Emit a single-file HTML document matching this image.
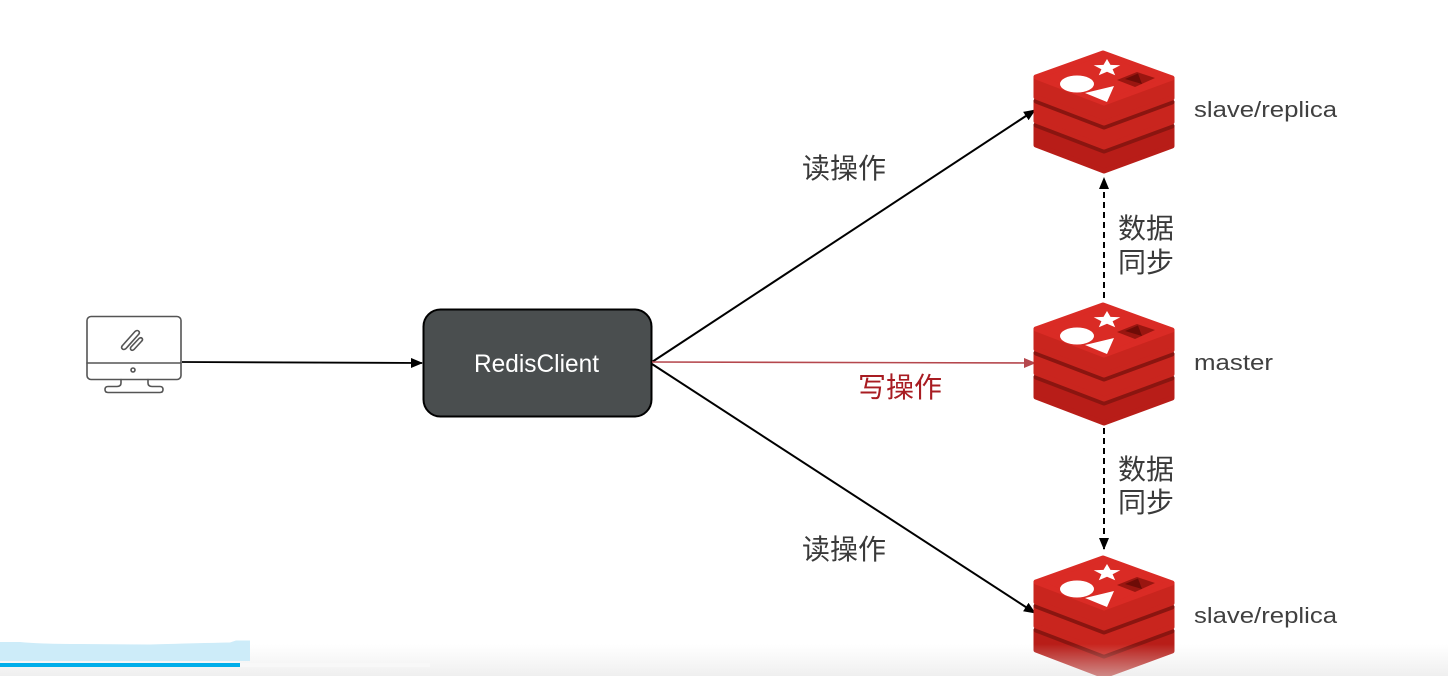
<!DOCTYPE html>
<html>
<head>
<meta charset="utf-8">
<style>
  html,body{margin:0;padding:0;background:#fff;}
  body{width:1448px;height:676px;overflow:hidden;}
  svg{display:block;}
  .cjk{font-family:"Liberation Sans","Noto Sans CJK SC",sans-serif;}
  .lat{font-family:"Liberation Sans",sans-serif;}
</style>
</head>
<body>
<svg width="1448" height="676" viewBox="0 0 1448 676" xmlns="http://www.w3.org/2000/svg">
  <defs>
    <marker id="ab" viewBox="0 0 12 10" refX="11" refY="5" markerWidth="12" markerHeight="10" markerUnits="userSpaceOnUse" orient="auto">
      <path d="M0,0 L12,5 L0,10 z" fill="#000"/>
    </marker>
    <marker id="ar" viewBox="0 0 12 10" refX="11" refY="5" markerWidth="12" markerHeight="10" markerUnits="userSpaceOnUse" orient="auto">
      <path d="M0,0 L12,5 L0,10 z" fill="#b5474d"/>
    </marker>
    <linearGradient id="fade" x1="0" y1="0" x2="0" y2="1">
      <stop offset="0" stop-color="#e6e6e6" stop-opacity="0"/>
      <stop offset="1" stop-color="#e2e2e2" stop-opacity="0.55"/>
    </linearGradient>
    <g id="logo">
      <!-- bottom layer -->
      <polygon points="1036,72 1104,98 1172,73 1172,93 1104,118 1036,92" fill="#b81d18" stroke="#b81d18" stroke-width="5" stroke-linejoin="round"/>
      <polygon points="1036,72 1103,48 1172,73 1104,98" fill="#8a1510" stroke="#8a1510" stroke-width="5" stroke-linejoin="round"/>
      <!-- middle layer -->
      <polygon points="1036,48 1104,74 1172,49 1172,69 1104,94 1036,68" fill="#c9251e" stroke="#c9251e" stroke-width="5" stroke-linejoin="round"/>
      <polygon points="1036,48 1103,24 1172,49 1104,74" fill="#8a1510" stroke="#8a1510" stroke-width="5" stroke-linejoin="round"/>
      <!-- top layer -->
      <polygon points="1036,24 1104,50 1172,25 1172,45 1104,70 1036,44" fill="#c9251e" stroke="#c9251e" stroke-width="5" stroke-linejoin="round"/>
      <polygon points="1036,24 1103,0 1172,25 1104,50" fill="#da2b25" stroke="#da2b25" stroke-width="5" stroke-linejoin="round"/>
      <!-- symbols -->
      <ellipse cx="1077" cy="31" rx="17" ry="8.5" fill="#fff"/>
      <polygon points="1107,6 1110.5,11.9 1120.3,12.2 1112.6,16.2 1115.2,22.3 1107,18.8 1098.8,22.3 1101.4,16.2 1093.7,12.2 1103.5,11.9" fill="#fff"/>
      <polygon points="1085,40 1114,33 1107,49" fill="#fff"/>
      <polygon points="1117,27 1137,19 1155,25 1135,34" fill="#9a1610"/>
      <polygon points="1125,26 1138,20.5 1142,31" fill="#6e0c07"/>
    </g>
  </defs>

  <!-- monitor icon -->
  <g fill="none" stroke="#555" stroke-width="1.6" stroke-linejoin="round" stroke-linecap="round">
    <rect x="87" y="316.5" width="94" height="63" rx="4"/>
    <line x1="87" y1="363" x2="181" y2="363"/>
    <circle cx="133" cy="370" r="2"/>
    <path d="M121,379.5 L121,383 Q121,386.5 117,386.5 L108,386.5 Q105,386.5 105,389.5 Q105,392.5 108,392.5 L160,392.5 Q163,392.5 163,389.5 Q163,386.5 160,386.5 L152,386.5 Q148,386.5 148,383 L148,379.5"/>
    <path d="M122.5,345.5 L135,331.5 Q137.5,329.5 139,331.5 Q140,333 138.5,334.5 L126,348.5 Q123.5,350.5 122,348.5 Q121,347 122.5,345.5 Z"/>
    <path d="M131,347 L139,338.5 Q141,337 142.2,338.5 Q143,339.8 141.8,341 L134,349.5 Q132,351 130.8,349.6 Q130,348.2 131,347 Z"/>
  </g>

  <!-- monitor -> client -->
  <line x1="182" y1="362" x2="422" y2="363" stroke="#000" stroke-width="1.8" marker-end="url(#ab)"/>

  <!-- RedisClient box -->
  <rect x="423.5" y="309.5" width="228" height="107" rx="17" fill="#4a4e4f" stroke="#000" stroke-width="2"/>
  <text x="474" y="372" class="lat" font-size="25" fill="#fff" textLength="125" lengthAdjust="spacingAndGlyphs">RedisClient</text>

  <!-- client -> nodes -->
  <line x1="652" y1="362" x2="1035" y2="110" stroke="#000" stroke-width="2" marker-end="url(#ab)"/>
  <line x1="652" y1="362" x2="1035" y2="363" stroke="#b5474d" stroke-width="1.6" marker-end="url(#ar)"/>
  <line x1="652" y1="364" x2="1035" y2="613" stroke="#000" stroke-width="2" marker-end="url(#ab)"/>

  <!-- labels -->
  <text x="802" y="178" class="cjk" font-size="28" fill="#3a3a3a">读操作</text>
  <text x="858" y="397" class="cjk" font-size="28" fill="#a81c22">写操作</text>
  <text x="802" y="559" class="cjk" font-size="28" fill="#3a3a3a">读操作</text>

  <!-- logos -->
  <use href="#logo" x="0" y="53"/>
  <use href="#logo" x="0" y="305"/>
  <use href="#logo" x="0" y="558"/>

  <!-- dashed sync arrows -->
  <line x1="1104" y1="298" x2="1104" y2="178" stroke="#000" stroke-width="2" stroke-dasharray="6 4" marker-end="url(#ab)"/>
  <line x1="1104" y1="428" x2="1104" y2="549" stroke="#000" stroke-width="2" stroke-dasharray="6 4" marker-end="url(#ab)"/>

  <text x="1118" y="238" class="cjk" font-size="28" fill="#3a3a3a">数据</text>
  <text x="1118" y="272" class="cjk" font-size="28" fill="#3a3a3a">同步</text>
  <text x="1118" y="479" class="cjk" font-size="28" fill="#3a3a3a">数据</text>
  <text x="1118" y="512" class="cjk" font-size="28" fill="#3a3a3a">同步</text>

  <!-- node labels -->
  <text x="1194" y="117" class="lat" font-size="22" fill="#404040" textLength="143" lengthAdjust="spacingAndGlyphs">slave/replica</text>
  <text x="1194" y="370" class="lat" font-size="22" fill="#404040" textLength="79" lengthAdjust="spacingAndGlyphs">master</text>
  <text x="1194" y="623" class="lat" font-size="22" fill="#404040" textLength="143" lengthAdjust="spacingAndGlyphs">slave/replica</text>

  <!-- bottom player overlay -->
  <rect x="0" y="644" width="1448" height="32" fill="url(#fade)"/>
  <path d="M0,642 L20,642 Q40,644 80,644 L150,644.5 Q200,643 230,642.5 L236,640.5 L250,640.5 L250,661 L0,661 Z" fill="#cdecf9"/>
  <rect x="0" y="663" width="240" height="4" fill="#00aeea"/>
  <rect x="240" y="663" width="190" height="4" fill="#f8f8f8"/>
</svg>
</body>
</html>
